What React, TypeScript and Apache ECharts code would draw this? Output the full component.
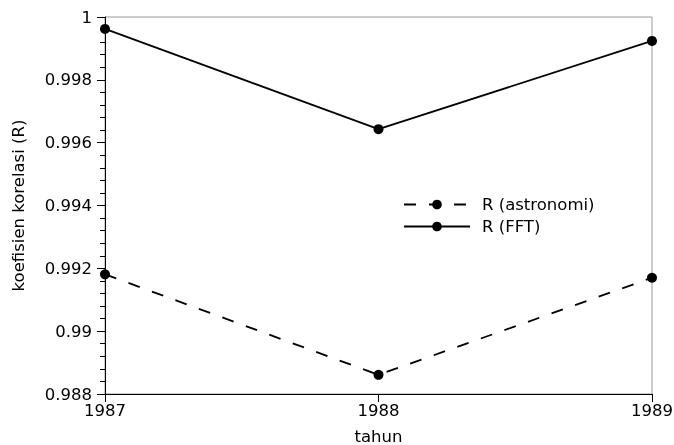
import React, { useEffect, useRef } from "react";
import * as echarts from "echarts";

const years = [1987, 1988, 1989];
const rAstronomi = [0.99181, 0.98861, 0.9917];
const rFFT = [0.99962, 0.99643, 0.99924];
const yTicks = { min: 0.988, max: 1, interval: 0.002 };

const FONT = "DejaVu Sans";
const FS = 16.5;

export default function App() {
  const ref = useRef<HTMLDivElement>(null);
  useEffect(() => {
    if (!ref.current) return;
    const chart = echarts.init(ref.current, undefined, { renderer: "svg" });
    chart.setOption({
      animation: false,
      textStyle: { fontFamily: FONT },
      grid: {
        left: 105,
        right: 22,
        top: 17,
        bottom: 51,
        outerBoundsMode: "none",
        containLabel: false,
        show: true,
        borderColor: "#999",
        borderWidth: 1,
      },
      legend: {
        orient: "vertical",
        left: 398,
        top: 191,
        itemWidth: 66,
        itemHeight: 12,
        itemGap: 5,
        textStyle: { fontFamily: FONT, fontSize: FS, color: "#000", padding: [0, 0, 0, 7] },
        data: ["R (astronomi)", "R (FFT)"],
      },
      xAxis: {
        type: "value",
        min: years[0],
        max: years[years.length - 1],
        interval: 1,
        name: "tahun",
        nameLocation: "middle",
        nameGap: 34,
        nameTextStyle: { fontFamily: FONT, fontSize: FS, color: "#000" },
        axisLine: { lineStyle: { color: "#000", width: 1 } },
        axisTick: { show: true, inside: false, length: 8, lineStyle: { color: "#000" } },
        axisLabel: {
          fontFamily: FONT,
          fontSize: FS,
          color: "#000",
          margin: 8,
          formatter: (v: number) => String(v),
        },
        splitLine: { show: false },
      },
      yAxis: {
        type: "value",
        min: yTicks.min,
        max: yTicks.max,
        interval: yTicks.interval,
        name: "koefisien korelasi (R)",
        nameLocation: "middle",
        nameRotate: 90,
        nameGap: 78,
        nameTextStyle: { fontFamily: FONT, fontSize: FS, color: "#000" },
        axisLine: { show: true, lineStyle: { color: "#000", width: 1 } },
        axisTick: { show: true, inside: false, length: 8, lineStyle: { color: "#000" } },
        minorTick: { show: true, splitNumber: 5, length: 5, lineStyle: { color: "#000" } },
        axisLabel: { fontFamily: FONT, fontSize: FS, color: "#000", margin: 13 },
        splitLine: { show: false },
      },
      series: [
        {
          name: "R (astronomi)",
          type: "line",
          data: years.map((y, i) => [y, rAstronomi[i]]),
          symbol: "circle",
          symbolSize: 10,
          itemStyle: { color: "#000" },
          lineStyle: { color: "#000", width: 1.8, type: [12, 13] },
        },
        {
          name: "R (FFT)",
          type: "line",
          data: years.map((y, i) => [y, rFFT[i]]),
          symbol: "circle",
          symbolSize: 10,
          itemStyle: { color: "#000" },
          lineStyle: { color: "#000", width: 1.8 },
        },
      ],
    });
    return () => chart.dispose();
  }, []);
  return (
    <div
      ref={ref}
      style={{ position: "fixed", left: 0, top: 0, width: 674, height: 445 }}
    />
  );
}
